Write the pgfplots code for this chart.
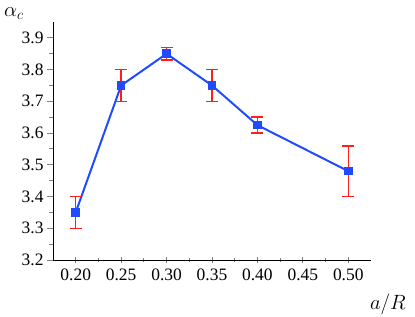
\documentclass[border=0pt]{standalone}
\usepackage{pgfplots}
\pgfplotsset{compat=1.18}
\usepackage{fontspec}
\setmainfont{Liberation Serif}
\definecolor{lblue}{RGB}{30,75,255}
\definecolor{ered}{RGB}{255,30,30}
\begin{document}
\begin{tikzpicture}
\useasboundingbox (-53bp,-57bp) rectangle (362bp,260bp);
\begin{axis}[
  at={(0,0)}, anchor=origin,
  scale only axis, width=318bp, height=238bp,
  xmin=0.175, xmax=0.525, ymin=3.2, ymax=3.95,
  /pgf/number format/assume math mode=true,
  axis lines*=left,
  axis line style={line width=0.9pt},
  xtick={0.20,0.25,0.30,0.35,0.40,0.45,0.50},
  ytick={3.2,3.3,3.4,3.5,3.6,3.7,3.8,3.9},
  minor x tick num=1, minor y tick num=1,
  x tick style={line width=0.9pt}, y tick style={line width=0.9pt},
  xtick align=center, ytick align=outside,
  major tick length=6bp, minor tick length=4bp,
  xticklabel style={/pgf/number format/fixed, /pgf/number format/fixed zerofill, /pgf/number format/precision=2, yshift=-2bp},
  yticklabel style={/pgf/number format/fixed, /pgf/number format/fixed zerofill, /pgf/number format/precision=1},
  tick label style={font=\rmfamily\fontsize{17.5}{19}\selectfont},
  xlabel={$a/R$},
  xlabel style={at={(axis description cs:1.053,-0.185)}, anchor=center, font=\fontsize{22}{26}\selectfont},
  ylabel={$\alpha_c$},
  ylabel style={at={(axis description cs:-0.123,1.035)}, anchor=center, rotate=-90, font=\fontsize{21}{25}\selectfont},
  clip=false,
]
\addplot[lblue, line width=2pt, mark=square*, mark size=3.3bp,
  mark options={solid, fill=lblue, draw=lblue},
  error bars/.cd, y dir=both, y explicit,
  error bar style={ered, line width=1.5pt},
  error mark options={ered, line width=1.5pt, mark size=6bp, rotate=90}]
coordinates {
 (0.20,3.35) +- (0,0.05)
 (0.25,3.75) +- (0,0.05)
 (0.30,3.85) +- (0,0.02)
 (0.35,3.75) +- (0,0.05)
 (0.40,3.625) +- (0,0.025)
 (0.50,3.48) +- (0,0.08)
};
\end{axis}
\end{tikzpicture}
\end{document}
